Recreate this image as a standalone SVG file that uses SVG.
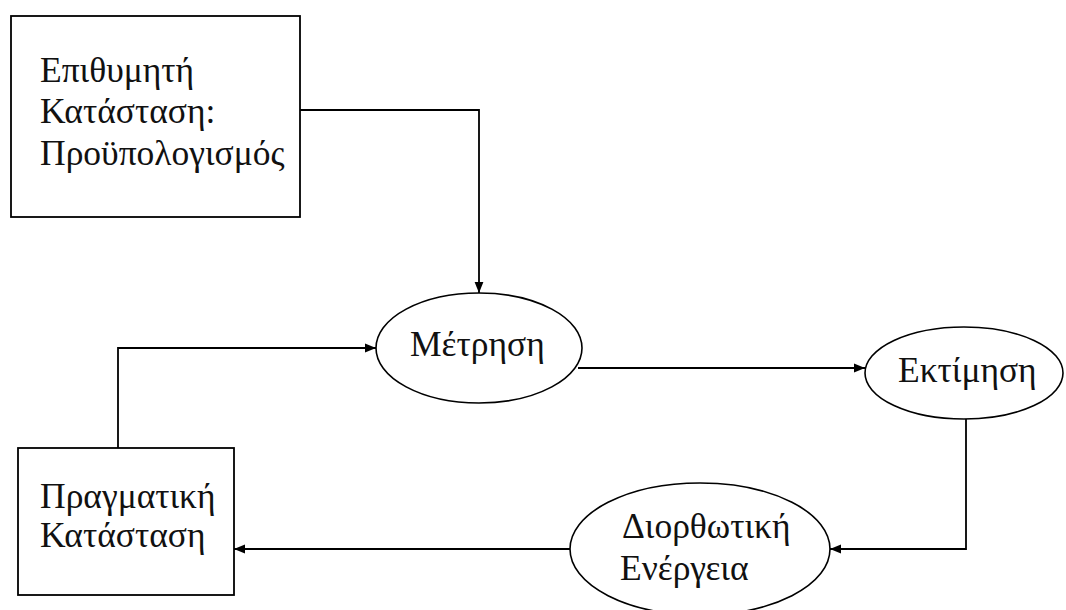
<svg xmlns="http://www.w3.org/2000/svg" width="1066" height="610" viewBox="0 0 1066 610">
<defs>
<style>
.box{fill:#fff;stroke:#000;stroke-width:1.8}
.ell{fill:#fff;stroke:#000;stroke-width:1.6}
.lbl{font-family:"Liberation Serif","DejaVu Serif",serif;font-size:35.5px;fill:#111}
.con{fill:none;stroke:#000;stroke-width:1.8}
</style>
<marker id="ah" viewBox="0 0 10 10" refX="10" refY="5" markerWidth="11" markerHeight="11" markerUnits="userSpaceOnUse" orient="auto">
<path d="M0,1 L10,5 L0,9 Z" fill="#000"/>
</marker>
</defs>
<rect width="1066" height="610" fill="#fff"/>
<g id="connectors">
<path class="con" d="M300,110 H479 V293" marker-end="url(#ah)"/>
<path class="con" d="M118,448 V348 H376" marker-end="url(#ah)"/>
<path class="con" d="M578,368 H865" marker-end="url(#ah)"/>
<path class="con" d="M966,419 V549 H830" marker-end="url(#ah)"/>
<path class="con" d="M570,549 H234" marker-end="url(#ah)"/>
</g>
<g id="node-desired">
<rect class="box" x="11" y="16" width="289" height="201"/>
<text class="lbl" x="40" y="82">Επιθυμητή</text>
<text class="lbl" x="40" y="123">Κατάσταση:</text>
<text class="lbl" x="40" y="165">Προϋπολογισμός</text>
</g>
<g id="node-measure">
<ellipse class="ell" cx="479" cy="348" rx="103" ry="55"/>
<text class="lbl" x="410" y="356">Μέτρηση</text>
</g>
<g id="node-estimate">
<ellipse class="ell" cx="964" cy="373" rx="99" ry="46"/>
<text class="lbl" x="898" y="382">Εκτίμηση</text>
</g>
<g id="node-corrective">
<ellipse class="ell" cx="700" cy="549" rx="130" ry="66"/>
<text class="lbl" x="622" y="538">Διορθωτική</text>
<text class="lbl" x="620" y="580">Ενέργεια</text>
</g>
<g id="node-actual">
<rect class="box" x="18" y="448" width="216" height="147"/>
<text class="lbl" x="40" y="508">Πραγματική</text>
<text class="lbl" x="40" y="547">Κατάσταση</text>
</g>
</svg>
